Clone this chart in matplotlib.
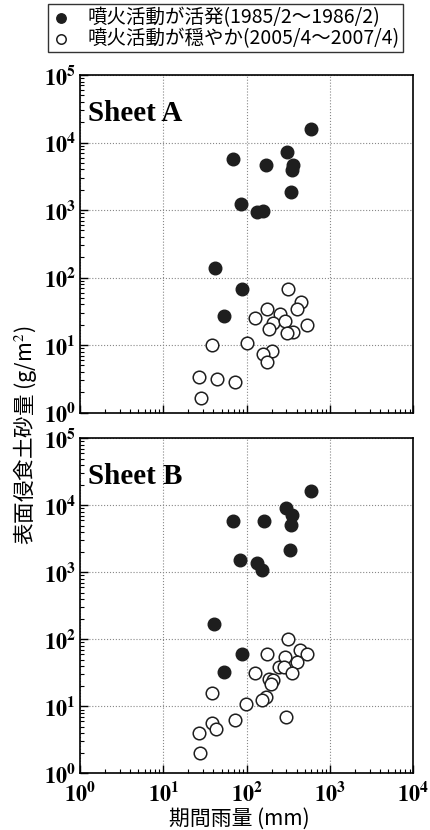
import matplotlib.pyplot as plt
import numpy as np
from matplotlib.ticker import LogLocator, NullFormatter

plt.rcParams['font.family'] = ['Noto Sans CJK JP', 'DejaVu Sans']
plt.rcParams['mathtext.fontset'] = 'stix'

# Sheet A - active period (1985/2-1986/2)
a_active_rain = [585, 69, 169, 304, 356, 346, 340, 85, 132, 156, 42, 89, 54]
a_active_soil = [15700, 5800, 4730, 7260, 4730, 3890, 1860, 1235, 922, 964, 137, 67, 26.7]
# Sheet A - calm period (2005/4-2007/4)
a_calm_rain = [315, 448, 397, 177, 127, 251, 208, 288, 187, 356, 302, 529,
               38, 100, 201, 158, 174, 27, 44, 72, 28]
a_calm_soil = [67, 44, 34, 34, 25, 29, 21.4, 23, 17.1, 15.8, 15.2, 19.8,
               10.0, 10.7, 8.3, 7.3, 5.7, 3.4, 3.2, 2.8, 1.67]

# Sheet B - active period
b_active_rain = [585, 296, 349, 343, 68, 163, 333, 84, 132, 154, 41, 88, 53]
b_active_soil = [16200, 9270, 7120, 5100, 5800, 5800, 2160, 1520, 1390, 1100, 169, 60, 33]
# Sheet B - calm period
b_calm_rain = [315, 174, 288, 436, 529, 397, 242, 280, 352, 125, 187, 208,
               194, 38, 170, 154, 98, 296, 72, 38, 43, 27, 27.5]
b_calm_soil = [100, 60, 55, 69, 60, 46, 39, 39, 32, 32, 26, 24.7,
               21.3, 15.7, 14.0, 12.5, 10.9, 7.0, 6.3, 5.7, 4.6, 4.0, 2.0]

labels = ['噴火活動が活発(1985/2～1986/2)', '噴火活動が穏やか(2005/4～2007/4)']
sheets = ['Sheet A', 'Sheet B']
x_ticks = [1, 10, 100, 1000, 10000]
y_ticks = [1, 10, 100, 1000, 10000, 100000]

fig = plt.figure(figsize=(4.3, 8.3), dpi=100)
axA = fig.add_axes([0.1858, 0.5028, 0.7754, 0.4068])
axB = fig.add_axes([0.1858, 0.0681, 0.7754, 0.4038])

data = [(axA, a_active_rain, a_active_soil, a_calm_rain, a_calm_soil),
        (axB, b_active_rain, b_active_soil, b_calm_rain, b_calm_soil)]

for i, (ax, ar, asoil, cr, csoil) in enumerate(data):
    h1 = ax.scatter(ar, asoil, s=82, facecolor='#1e1e1e', edgecolor='#1e1e1e',
                    linewidths=1, zorder=3)
    h2 = ax.scatter(cr, csoil, s=82, facecolor='white', edgecolor='#1e1e1e',
                    linewidths=1.1, zorder=3)
    ax.set_xscale('log')
    ax.set_yscale('log')
    ax.set_xlim(1, 10000)
    ax.set_ylim(1, 100000)
    ax.set_xticks(x_ticks)
    ax.set_yticks(y_ticks)
    ax.xaxis.set_minor_locator(LogLocator(base=10, subs=np.arange(2, 10), numticks=20))
    ax.yaxis.set_minor_locator(LogLocator(base=10, subs=np.arange(2, 10), numticks=20))
    ax.xaxis.set_minor_formatter(NullFormatter())
    ax.yaxis.set_minor_formatter(NullFormatter())
    ax.set_yticklabels([r'$\mathbf{10^{%d}}$' % k for k in range(6)], fontsize=16)
    if i == 1:
        ax.set_xticklabels([r'$\mathbf{10^{%d}}$' % k for k in range(5)], fontsize=16)
    else:
        ax.set_xticklabels([])
    ax.tick_params(which='both', direction='in', top=False, right=False, pad=3)
    ax.tick_params(axis='x', which='major', pad=6)
    ax.tick_params(which='major', length=6, width=1)
    ax.tick_params(which='minor', length=3, width=0.8)
    ax.grid(True, which='major', linestyle=':', color='#888888', linewidth=0.8)
    for sp in ax.spines.values():
        sp.set_linewidth(1.2)
    ax.text(0.024, 0.863, sheets[i], transform=ax.transAxes, fontsize=21,
            fontweight='bold', family='Liberation Serif', va='baseline')

fig.text(0.057, 0.476, '表面侵食土砂量 (g/m$^2$)', rotation=90, fontsize=15.5,
         ha='center', va='center')
fig.text(0.556, 0.014, '期間雨量 (mm)', fontsize=15, ha='center', va='center')

leg = fig.legend([h1, h2], labels, loc='upper left',
                 bbox_to_anchor=(48 / 430, 1 - 4 / 830), borderaxespad=0,
                 fontsize=14, frameon=True, fancybox=False, edgecolor='black',
                 handletextpad=0.9, labelspacing=0.0, borderpad=0.15,
                 markerscale=0.75, handlelength=1.0)
leg.get_frame().set_linewidth(1.0)

fig.savefig('out.png', dpi=100)
